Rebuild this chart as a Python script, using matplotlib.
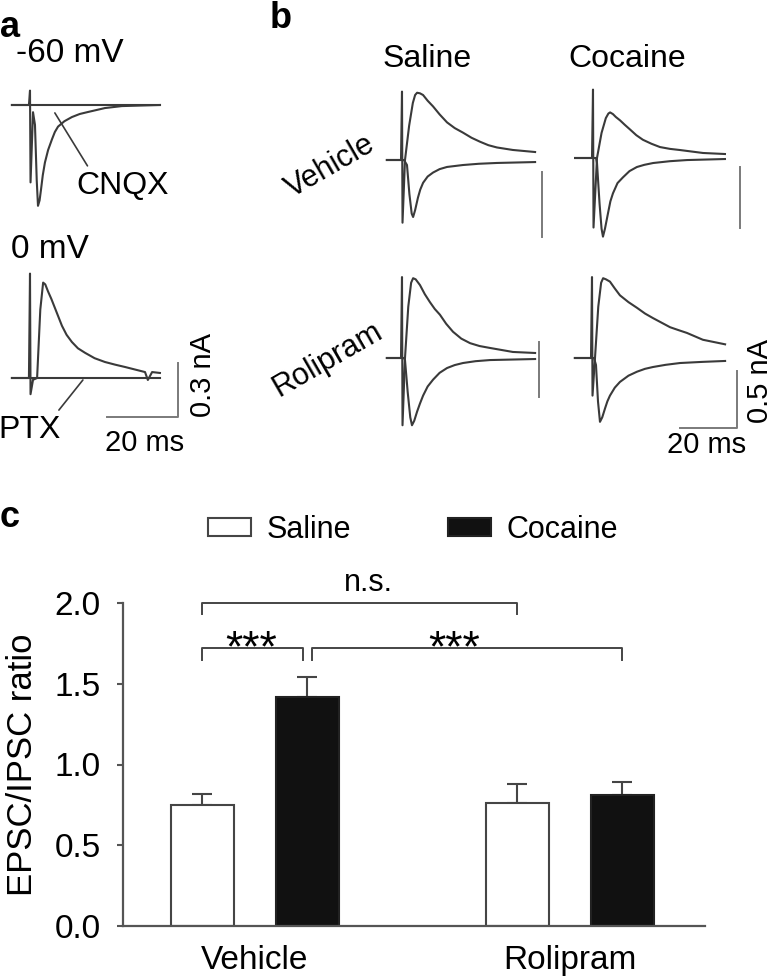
import matplotlib
matplotlib.use('Agg')
import matplotlib.pyplot as plt
from matplotlib.patches import Patch

W, H = 773, 977
plt.rcParams['font.family'] = ['Liberation Sans', 'DejaVu Sans']

# ---- panel a traces (ms, nA) ----
a_epsc_t = [-5.1, -0.3, 0.0, 0.15, 0.85, 1.4, 1.9, 2.25, 2.7, 3.1, 3.6, 4.2, 5.1, 6.2, 7.0, 7.9, 9.7,
            11.8, 14.0, 16.3, 21.1, 25.9, 36.6]
a_epsc_i = [0, 0, 0.08, -0.43, -0.04, -0.11, -0.42, -0.56, -0.53, -0.47, -0.39, -0.32, -0.25, -0.19,
            -0.15, -0.12, -0.09, -0.067, -0.05, -0.039, -0.017, -0.006, 0]
a_cnqx_t = [-5.1, 0.0, 12.0, 24.0, 36.6]
a_cnqx_i = [0, 0, 0, 0, 0]
a_ipsc_t = [-5.1, -0.3, 0.0, 0.15, 0.85, 2.0, 2.9, 3.7, 4.3, 5.1, 6.0, 7.0, 8.0, 9.0, 10.3, 11.8, 13.5,
            15.5, 18.2, 21.1, 24.0, 26.8, 29.6, 32.4, 33.2, 34.4, 36.6]
a_ipsc_i = [0, 0, 0.58, -0.09, -0.01, 0, 0.38, 0.53, 0.52, 0.48, 0.44, 0.39, 0.34, 0.29, 0.24, 0.20,
            0.165, 0.14, 0.11, 0.089, 0.074, 0.061, 0.047, 0.033, -0.011, 0.033, 0.028]
a_ptx_t = [-5.1, 0.0, 12.0, 24.0, 36.6]
a_ptx_i = [0, 0, 0, 0, 0]

# ---- panel b traces (ms, nA) ----
vs_ipsc_t = [-5.3, -0.35, 0, 0.18, 1.05, 2.5, 3.8, 4.6, 5.3, 6.3, 7.4, 9.0, 10.9, 13.2, 15.8, 18.5,
             21.4, 24.4, 27.4, 30.3, 33.3, 38.9, 46.7]
vs_ipsc_i = [0, 0, 0.60, -0.55, 0, 0.30, 0.50, 0.57, 0.59, 0.585, 0.57, 0.52, 0.47, 0.40, 0.33, 0.28,
             0.24, 0.195, 0.16, 0.13, 0.11, 0.088, 0.07]
vs_epsc_t = [-5.3, 0.7, 1.75, 2.6, 3.4, 3.9, 4.6, 5.6, 6.4, 7.4, 9.0, 10.9, 13.2, 15.8, 21.4, 27.0,
             33.3, 46.7]
vs_epsc_i = [0, 0, -0.044, -0.30, -0.47, -0.50, -0.44, -0.33, -0.26, -0.20, -0.145, -0.11, -0.08,
             -0.061, -0.044, -0.033, -0.026, -0.018]

vc_ipsc_t = [-6.3, -0.35, 0, 0.18, 1.4, 3.0, 4.5, 5.4, 6.0, 7.0, 8.0, 9.5, 11.2, 13.0, 15.2, 17.5,
             20.5, 23.5, 27.0, 30.5, 38.6, 46.3]
vc_ipsc_i = [0, 0, 0.60, -0.61, 0, 0.22, 0.35, 0.39, 0.40, 0.385, 0.36, 0.33, 0.29, 0.25, 0.20, 0.16,
             0.125, 0.096, 0.08, 0.07, 0.044, 0.035]
vc_epsc_t = [-6.3, 1.05, 1.4, 2.3, 3.0, 3.5, 4.2, 5.3, 6.1, 7.0, 8.6, 10.5, 12.8, 15.4, 18.0, 21.1,
             27.0, 33.0, 46.3]
vc_epsc_i = [0, 0, -0.044, -0.40, -0.62, -0.69, -0.62, -0.48, -0.38, -0.31, -0.22, -0.17, -0.115,
             -0.079, -0.06, -0.044, -0.028, -0.018, -0.009]

rs_ipsc_t = [-5.3, -0.35, 0, 0.18, 1.05, 2.2, 3.2, 3.9, 4.8, 6.3, 8.0, 9.8, 11.5, 13.3, 15.5, 17.9,
             20.8, 23.9, 27.2, 30.9, 38.9, 46.7]
rs_ipsc_i = [0, 0, 0.71, -0.59, 0, 0.45, 0.66, 0.70, 0.69, 0.64, 0.56, 0.49, 0.43, 0.38, 0.30, 0.23,
             0.17, 0.13, 0.105, 0.088, 0.053, 0.044]
rs_epsc_t = [-5.3, 0.7, 1.05, 2.0, 2.9, 3.5, 4.3, 5.3, 6.3, 7.4, 9.0, 10.9, 13.2, 15.8, 18.5, 21.4,
             25.8, 30.9, 46.7]
rs_epsc_i = [0, 0, -0.018, -0.30, -0.52, -0.59, -0.55, -0.47, -0.40, -0.33, -0.25, -0.19, -0.13,
             -0.088, -0.062, -0.044, -0.028, -0.018, -0.009]

rc_ipsc_t = [-6.0, -0.35, 0, 0.18, 1.05, 2.2, 3.2, 3.9, 4.9, 6.3, 8.0, 9.8, 12.8, 15.8, 18.6, 21.4,
             24.4, 27.4, 30.3, 33.3, 36.1, 38.9, 42.8, 46.7]
rc_ipsc_i = [0, 0, 0.71, -0.33, 0, 0.45, 0.66, 0.70, 0.69, 0.67, 0.61, 0.55, 0.49, 0.44, 0.39, 0.35,
             0.31, 0.27, 0.245, 0.22, 0.19, 0.16, 0.14, 0.12]
rc_epsc_t = [-6.0, 0.7, 1.4, 2.1, 2.8, 3.6, 4.6, 5.4, 6.3, 8.0, 9.8, 12.8, 15.8, 18.6, 21.4, 25.8,
             30.9, 38.8, 46.7]
rc_epsc_i = [0, 0, -0.061, -0.38, -0.56, -0.52, -0.44, -0.38, -0.33, -0.26, -0.21, -0.155, -0.12,
             -0.095, -0.079, -0.06, -0.044, -0.034, -0.026]

# ---- panel c bars ----
groups = ['Vehicle', 'Rolipram']
saline_mean = [0.75, 0.76]
saline_sem = [0.07, 0.12]
cocaine_mean = [1.42, 0.81]
cocaine_sem = [0.12, 0.08]

TRACE = '#3a3a3a'
SCALE = '#7a7a7a'
EDGE = '#454545'

fig = plt.figure(figsize=(W / 100, H / 100), dpi=100)


def px_text(x, y, s, **kw):
    fig.text(x / W, 1 - y / H, s, **kw)


def cell_axes(box, t0, base, px_ms, px_na):
    # axes whose data units are ms / nA, placed by a pixel box
    l, t, r, b = box
    ax = fig.add_axes([l / W, 1 - b / H, (r - l) / W, (b - t) / H])
    ax.set_xlim((l - t0) / px_ms, (r - t0) / px_ms)
    ax.set_ylim((base - b) / px_na, (base - t) / px_na)
    ax.axis('off')
    return ax


def trace(ax, t, i):
    ax.plot(t, i, color=TRACE, lw=1.5, solid_joinstyle='round', clip_on=False)


# panel a
ax_a1 = cell_axes((0, 60, 230, 240), 30, 105, 3.55, 180)
trace(ax_a1, a_cnqx_t, a_cnqx_i)
trace(ax_a1, a_epsc_t, a_epsc_i)
ax_a1.annotate('CNQX', xy=(7.0, -0.044), xytext=(26.2, -0.45), fontsize=23,
               ha='center', va='center',
               arrowprops=dict(arrowstyle='-', color=TRACE, lw=1.2,
                               relpos=(0.15, 1.0), shrinkA=2, shrinkB=0))

ax_a2 = cell_axes((0, 260, 230, 470), 30, 378, 3.55, 180)
trace(ax_a2, a_ptx_t, a_ptx_i)
trace(ax_a2, a_ipsc_t, a_ipsc_i)
ax_a2.annotate('PTX', xy=(14.9, -0.011), xytext=(0.0, -0.289), fontsize=23,
               ha='center', va='center',
               arrowprops=dict(arrowstyle='-', color=TRACE, lw=1.2,
                               relpos=(0.9, 1.0), shrinkA=2, shrinkB=0))
ax_a2.plot([21.7, 41.7, 41.7], [-0.217, -0.217, 0.083], color=SCALE, lw=1.4, clip_on=False)

# panel b
cells = [
    ((370, 80, 560, 250), 402, 160, vs_ipsc_t, vs_ipsc_i, vs_epsc_t, vs_epsc_i, [49.1, 49.1], [-0.105, -0.675]),
    ((560, 80, 760, 250), 593, 158, vc_ipsc_t, vc_ipsc_i, vc_epsc_t, vc_epsc_i, [51.6, 51.6], [-0.079, -0.614]),
    ((370, 260, 560, 440), 402, 358, rs_ipsc_t, rs_ipsc_i, rs_epsc_t, rs_epsc_i, [48.1, 48.1], [0.14, -0.342]),
    ((560, 260, 770, 440), 592, 358, rc_ipsc_t, rc_ipsc_i, rc_epsc_t, rc_epsc_i, [30.9, 50.9, 50.9], [-0.614, -0.614, -0.114]),
]
for box, t0, base, it, ii, et, ei, sx, sy in cells:
    ax = cell_axes(box, t0, base, 2.85, 114)
    trace(ax, et, ei)
    trace(ax, it, ii)
    ax.plot(sx, sy, color=SCALE, lw=1.4, clip_on=False)

# labels for the trace panels
px_text(0, 10, 'a', fontsize=26, fontweight='bold', va='top')
px_text(70, 54, '-60 mV', fontsize=24, ha='center', va='center')
px_text(50, 250, '0 mV', fontsize=24, ha='center', va='center')
px_text(145, 443, '20 ms', fontsize=21, ha='center', va='center')
px_text(203, 375, '0.3 nA', fontsize=21, ha='center', va='center', rotation=90)
px_text(270, 1, 'b', fontsize=26, fontweight='bold', va='top')
px_text(427, 59, 'Saline', fontsize=23, ha='center', va='center')
px_text(627, 59, 'Cocaine', fontsize=23, ha='center', va='center')
px_text(330, 167, 'Vehicle', fontsize=22, ha='center', va='center', rotation=30)
px_text(328, 360, 'Rolipram', fontsize=22, ha='center', va='center', rotation=30)
px_text(707, 445, '20 ms', fontsize=21, ha='center', va='center')
px_text(760, 381, '0.5 nA', fontsize=21, ha='center', va='center', rotation=90)
px_text(0, 500, 'c', fontsize=26, fontweight='bold', va='top')

# panel c
ax = fig.add_axes([123 / W, 1 - 926 / H, (705 - 123) / W, (926 - 603) / H])
x_sal = [0, 3]
x_coc = [1, 4]
ax.bar(x_sal, saline_mean, width=0.6, color='white', edgecolor=EDGE, lw=1.5, zorder=2)
ax.bar(x_coc, cocaine_mean, width=0.6, color='#111111', edgecolor='#222222', lw=1.5, zorder=2)
ax.errorbar(x_sal, saline_mean, yerr=[[0, 0], saline_sem], fmt='none', ecolor=EDGE,
            elinewidth=1.5, capsize=7, capthick=1.5, zorder=1)
ax.errorbar(x_coc, cocaine_mean, yerr=[[0, 0], cocaine_sem], fmt='none', ecolor=EDGE,
            elinewidth=1.5, capsize=7, capthick=1.5, zorder=1)

ax.set_xlim(-0.757, 4.79)
ax.set_ylim(0, 2.0)
ax.set_yticks([0, 0.5, 1.0, 1.5, 2.0])
ax.set_yticklabels(['0.0', '0.5', '1.0', '1.5', '2.0'])
ax.set_xticks([0.5, 3.5])
ax.set_xticklabels(groups)
ax.tick_params(axis='y', length=4, width=1.5, color='#555555', labelsize=24, pad=12)
ax.tick_params(axis='x', length=0, labelsize=24, pad=14)
for s in ['top', 'right']:
    ax.spines[s].set_visible(False)
for s in ['left', 'bottom']:
    ax.spines[s].set_color('#555555')
    ax.spines[s].set_linewidth(1.6)
ax.set_ylabel('EPSC/IPSC ratio', fontsize=25)
ax.yaxis.set_label_coords(-0.145, 0.5)

# significance brackets
bk = dict(color=EDGE, lw=1.4, clip_on=False)
ax.plot([0, 0, 3, 3], [1.93, 2.0, 2.0, 1.93], **bk)
ax.plot([0, 0, 0.96, 0.96], [1.65, 1.72, 1.72, 1.65], **bk)
ax.plot([1.04, 1.04, 4, 4], [1.65, 1.72, 1.72, 1.65], **bk)
ax.text(1.58, 2.03, 'n.s.', fontsize=22, ha='center', va='bottom')
ax.text(0.46, 1.64, '***', fontsize=32, ha='center', va='baseline')
ax.text(2.4, 1.64, '***', fontsize=32, ha='center', va='baseline')

handles = [Patch(facecolor='white', edgecolor=EDGE, lw=1.5),
           Patch(facecolor='#111111', edgecolor='#222222', lw=1.5)]
fig.legend(handles, ['Saline', 'Cocaine'], loc='center', ncol=2, frameon=False,
           bbox_to_anchor=(413 / W, 1 - 530 / H), fontsize=22,
           handlelength=1.4, handleheight=0.55, handletextpad=0.5, columnspacing=3.2)

fig.savefig('out.png', dpi=100)
